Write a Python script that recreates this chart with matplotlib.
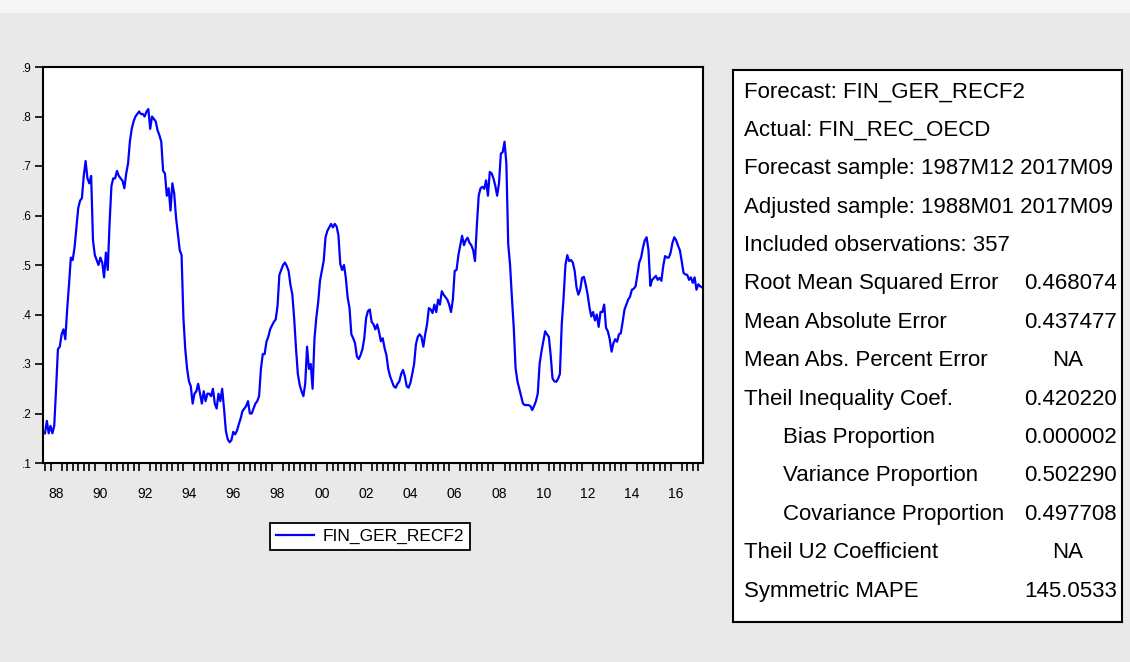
import numpy as np
import pandas as pd
import matplotlib
matplotlib.use('Agg')
import matplotlib.pyplot as plt
from matplotlib.ticker import FixedLocator, FuncFormatter

plt.rcParams['font.family'] = ['Liberation Sans', 'DejaVu Sans']

# monthly forecast values 1988M01 .. 2017M09
recf2 = [
  0.16, 0.185, 0.16, 0.175, 0.16, 0.175, 0.25, 0.33, 0.335, 0.36, 0.37, 0.35,        # 1988
  0.41, 0.46, 0.515, 0.51, 0.535, 0.575, 0.615, 0.63, 0.635, 0.68, 0.71, 0.675,     # 1989
  0.665, 0.68, 0.55, 0.52, 0.51, 0.50, 0.515, 0.505, 0.475, 0.525, 0.49, 0.585,     # 1990
  0.66, 0.675, 0.675, 0.69, 0.68, 0.675, 0.67, 0.655, 0.685, 0.705, 0.75, 0.775,    # 1991
  0.79, 0.80, 0.805, 0.81, 0.805, 0.805, 0.80, 0.81, 0.815, 0.775, 0.80, 0.795,     # 1992
  0.79, 0.772, 0.762, 0.749, 0.69, 0.685, 0.64, 0.655, 0.61, 0.665, 0.645, 0.596,   # 1993
  0.562, 0.53, 0.52, 0.393, 0.33, 0.29, 0.265, 0.255, 0.22, 0.24, 0.245, 0.26,      # 1994
  0.24, 0.22, 0.245, 0.225, 0.24, 0.24, 0.235, 0.25, 0.22, 0.21, 0.24, 0.225,       # 1995
  0.25, 0.21, 0.165, 0.148, 0.142, 0.146, 0.163, 0.158, 0.165, 0.178, 0.19, 0.205,  # 1996
  0.21, 0.215, 0.225, 0.20, 0.20, 0.21, 0.22, 0.225, 0.235, 0.29, 0.32, 0.32,       # 1997
  0.345, 0.355, 0.37, 0.378, 0.385, 0.39, 0.417, 0.48, 0.49, 0.50, 0.505, 0.498,    # 1998
  0.488, 0.46, 0.441, 0.393, 0.332, 0.28, 0.258, 0.245, 0.235, 0.26, 0.335, 0.29,   # 1999
  0.30, 0.25, 0.35, 0.393, 0.424, 0.468, 0.488, 0.508, 0.556, 0.569, 0.576, 0.583,  # 2000
  0.576, 0.583, 0.578, 0.56, 0.502, 0.49, 0.50, 0.474, 0.434, 0.413, 0.36, 0.352,   # 2001
  0.342, 0.315, 0.31, 0.318, 0.33, 0.352, 0.393, 0.407, 0.41, 0.385, 0.38, 0.37,    # 2002
  0.38, 0.365, 0.346, 0.352, 0.332, 0.318, 0.29, 0.275, 0.265, 0.255, 0.252, 0.26,  # 2003
  0.265, 0.28, 0.288, 0.275, 0.255, 0.252, 0.262, 0.28, 0.30, 0.34, 0.355, 0.36,    # 2004
  0.355, 0.335, 0.36, 0.38, 0.413, 0.41, 0.403, 0.42, 0.405, 0.43, 0.42, 0.447,     # 2005
  0.44, 0.435, 0.43, 0.42, 0.405, 0.43, 0.488, 0.49, 0.52, 0.539, 0.559, 0.54,      # 2006
  0.55, 0.555, 0.545, 0.54, 0.53, 0.508, 0.58, 0.64, 0.655, 0.658, 0.654, 0.671,    # 2007
  0.64, 0.688, 0.685, 0.675, 0.66, 0.64, 0.665, 0.725, 0.728, 0.749, 0.705, 0.542,  # 2008
  0.50, 0.434, 0.373, 0.291, 0.265, 0.25, 0.235, 0.22, 0.217, 0.217, 0.217, 0.215,  # 2009
  0.207, 0.215, 0.225, 0.24, 0.30, 0.325, 0.346, 0.366, 0.36, 0.355, 0.318, 0.271, # 2010
  0.265, 0.264, 0.27, 0.28, 0.38, 0.434, 0.50, 0.52, 0.508, 0.51, 0.505, 0.488,     # 2011
  0.455, 0.44, 0.45, 0.474, 0.476, 0.46, 0.441, 0.415, 0.396, 0.405, 0.388, 0.40,   # 2012
  0.375, 0.405, 0.405, 0.42, 0.373, 0.366, 0.35, 0.325, 0.342, 0.35, 0.345, 0.36,   # 2013
  0.362, 0.385, 0.41, 0.42, 0.43, 0.436, 0.45, 0.452, 0.457, 0.48, 0.505, 0.515,    # 2014
  0.535, 0.55, 0.556, 0.53, 0.458, 0.47, 0.474, 0.478, 0.47, 0.474, 0.468, 0.498,   # 2015
  0.518, 0.515, 0.515, 0.525, 0.545, 0.556, 0.55, 0.539, 0.53, 0.508, 0.484, 0.481, # 2016
  0.48, 0.47, 0.475, 0.464, 0.475, 0.45, 0.461, 0.457, 0.455,                       # 2017
]
start_year = 1988
series_name = 'FIN_GER_RECF2'
year_labels = ['88', '90', '92', '94', '96', '98', '00', '02', '04', '06',
               '08', '10', '12', '14', '16']
y_ticks = [0.1, 0.2, 0.3, 0.4, 0.5, 0.6, 0.7, 0.8, 0.9]

stat_header = [
  'Forecast: FIN_GER_RECF2',
  'Actual: FIN_REC_OECD',
  'Forecast sample: 1987M12 2017M09',
  'Adjusted sample: 1988M01 2017M09',
  'Included observations: 357',
]
stat_names = ['Root Mean Squared Error', 'Mean Absolute Error',
              'Mean Abs. Percent Error', 'Theil Inequality Coef.',
              'Bias Proportion', 'Variance Proportion',
              'Covariance Proportion', 'Theil U2 Coefficient', 'Symmetric MAPE']
stat_values = ['0.468074', '0.437477', 'NA', '0.420220', '0.000002',
               '0.502290', '0.497708', 'NA', '145.0533']
indented = ['Bias Proportion', 'Variance Proportion', 'Covariance Proportion']

W, H = 1130, 662
fig = plt.figure(figsize=(W / 100, H / 100), dpi=100)
fig.patch.set_facecolor('#e9e9e9')
fig.patches.append(plt.Rectangle((0, 1 - 12 / H), 1, 12 / H, transform=fig.transFigure,
                                 color='#f6f6f6', zorder=0))

ax = fig.add_axes([43 / W, 1 - 463 / H, 660 / W, 396 / H])
x = start_year + np.arange(len(recf2)) / 12.0
ax.plot(x, recf2, color='#0000ff', lw=1.6, label=series_name)

ax.set_ylim(0.1, 0.9)
ax.set_xlim(start_year - 2 / 22.1, x[-1] + 1 / 22.1)
ax.set_yticks(y_ticks)
ax.yaxis.set_major_formatter(FuncFormatter(lambda v, p: ('%.1f' % v)[1:]))
ax.tick_params(axis='y', direction='out', length=6, width=1.2, labelsize=8.5, pad=2)

label_pos = [start_year + 0.5 + 2 * k for k in range(len(year_labels))]
ax.xaxis.set_major_locator(FixedLocator(label_pos))
ax.set_xticklabels(year_labels)
ax.xaxis.set_minor_locator(FixedLocator(np.arange(start_year, 2017.8, 0.25)))
ax.tick_params(axis='x', which='major', length=0, labelsize=10, pad=17)
ax.tick_params(axis='x', which='minor', direction='out', length=6, width=1.2)
for s in ax.spines.values():
  s.set_linewidth(1.5)

fig.legend(loc='center', bbox_to_anchor=(370 / W, 1 - 536.5 / H), fontsize=12.5,
           frameon=True, fancybox=False, edgecolor='black', framealpha=1,
           handlelength=2.2, handletextpad=0.5, borderpad=0.35)
fig.legends[0].get_frame().set_linewidth(1.3)

# statistics box
box = fig.add_axes([733 / W, 1 - 622 / H, 389 / W, 552 / H])
box.set_xticks([])
box.set_yticks([])
box.set_xlim(733, 1122)
box.set_ylim(622, 70)
for s in box.spines.values():
  s.set_linewidth(1.5)

fs = 16
row_y = 92
for line in stat_header:
  box.text(744, row_y, line, fontsize=fs, va='center', ha='left')
  row_y += 38.4
for name, val in zip(stat_names, stat_values):
  xpos = 783 if name in indented else 744
  box.text(xpos, row_y, name, fontsize=fs, va='center', ha='left')
  if val == 'NA':
    box.text(1068, row_y, val, fontsize=fs, va='center', ha='center')
  else:
    box.text(1117, row_y, val, fontsize=fs, va='center', ha='right')
  row_y += 38.4

fig.savefig('out.png', dpi=100, facecolor=fig.get_facecolor())
